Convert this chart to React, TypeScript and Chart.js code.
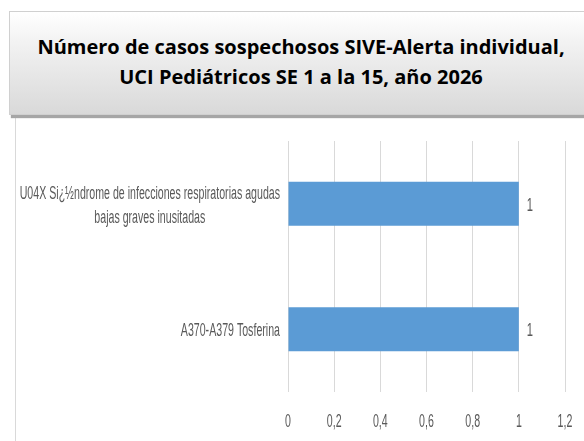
import React, { useEffect, useRef } from "react";
import { Chart, registerables } from "chart.js";

Chart.register(...registerables);

const categories: string[][] = [
  ["U04X Si¿½ndrome de infecciones respiratorias agudas", "bajas graves inusitadas"],
  ["A370-A379 Tosferina"],
];
const casos: number[] = [1, 1];
const xMax = 1.2;
const xStep = 0.2;
const titleLines: string[] = [
  "Número de casos sospechosos SIVE-Alerta individual,",
  "UCI Pediátricos SE 1 a la 15, año 2026",
];

const FONT_FAMILY = "'Liberation Sans', Arial, sans-serif";
const TEXT_COLOR = "#595959";
const SX = 0.59;

function drawCondensed(ctx: CanvasRenderingContext2D, text: string, x: number, y: number, align: CanvasTextAlign) {
  ctx.save();
  ctx.translate(x, y);
  ctx.scale(SX, 1);
  ctx.textAlign = align;
  ctx.fillText(text, 0, 0);
  ctx.restore();
}

const labelPlugin = {
  id: "customLabels",
  afterDraw(chart: any) {
    const ctx: CanvasRenderingContext2D = chart.ctx;
    const y = chart.scales.y;
    const x = chart.scales.x;
    ctx.save();
    ctx.font = "18px " + FONT_FAMILY;
    ctx.fillStyle = TEXT_COLOR;
    ctx.textBaseline = "alphabetic";
    const lineH = 24;
    categories.forEach((lines, i) => {
      const cy = y.getPixelForValue(i);
      const widths = lines.map((l) => ctx.measureText(l).width * SX);
      const bw = Math.max(...widths);
      const right = y.right - 8;
      const cx = right - bw / 2;
      lines.forEach((l, k) =>
        drawCondensed(ctx, l, cx, cy + 7 + (k - (lines.length - 1) / 2) * lineH, "center")
      );
    });
    x.ticks.forEach((t: any) => {
      const px = x.getPixelForValue(t.value);
      const label = String(Math.round(t.value * 10) / 10).replace(".", ",");
      drawCondensed(ctx, label, px, x.top + 35, "center");
    });
    ctx.font = "19px " + FONT_FAMILY;
    casos.forEach((v, i) => {
      const px = x.getPixelForValue(v);
      const py = y.getPixelForValue(i);
      drawCondensed(ctx, String(v), px + 8, py + 7, "left");
    });
    ctx.restore();
  },
};

export default function App() {
  const ref = useRef<HTMLCanvasElement>(null);
  useEffect(() => {
    if (!ref.current) return;
    const chart = new Chart(ref.current, {
      type: "bar",
      data: {
        labels: categories.map((c) => c.join(" ")),
        datasets: [
          {
            data: casos,
            backgroundColor: "#5b9bd5",
            borderWidth: 0,
            barPercentage: 0.35,
            categoryPercentage: 1,
          },
        ],
      },
      options: {
        indexAxis: "y",
        animation: false,
        responsive: false,
        maintainAspectRatio: false,
        layout: { padding: { top: 20, right: 19, left: 0, bottom: 0 } },
        plugins: { legend: { display: false }, tooltip: { enabled: false } },
        scales: {
          x: {
            min: 0,
            max: xMax,
            border: { display: false },
            grid: { color: "#d9d9d9", drawTicks: false },
            ticks: { stepSize: xStep, display: false },
            afterFit: (s: any) => {
              s.height = 49;
            },
          },
          y: {
            border: { display: false },
            grid: { display: false },
            ticks: { display: false },
            afterFit: (s: any) => {
              s.width = 272;
            },
          },
        },
      },
      plugins: [labelPlugin],
    });
    return () => chart.destroy();
  }, []);

  return (
    <div style={{ position: "absolute", left: 0, top: 0, width: 584, height: 441, overflow: "hidden", background: "#fff" }}>
      <div
        style={{
          position: "absolute",
          left: 15,
          top: 118,
          width: 600,
          height: 400,
          borderLeft: "1px solid #d9d9d9",
        }}
      />
      <canvas ref={ref} width={568} height={320} style={{ position: "absolute", left: 16, top: 121 }} />
      <div
        style={{
          position: "absolute",
          left: 9,
          top: 11,
          width: 600,
          height: 104,
          background: "linear-gradient(#ffffff, #f2f2f2 30%, #d9d9d9)",
          border: "1px solid #d0d0d0",
          boxShadow: "2px 3px 1px #a6a6a6",
          boxSizing: "border-box",
        }}
      />
      <div
        style={{
          position: "absolute",
          left: 9,
          top: 32,
          width: 584,
          textAlign: "center",
          fontFamily: "'Open Sans', sans-serif",
          fontWeight: 700,
          fontSize: 20,
          lineHeight: "30px",
          color: "#000",
        }}
      >
        {titleLines.map((l, i) => (
          <div key={i}>{l}</div>
        ))}
      </div>
    </div>
  );
}
